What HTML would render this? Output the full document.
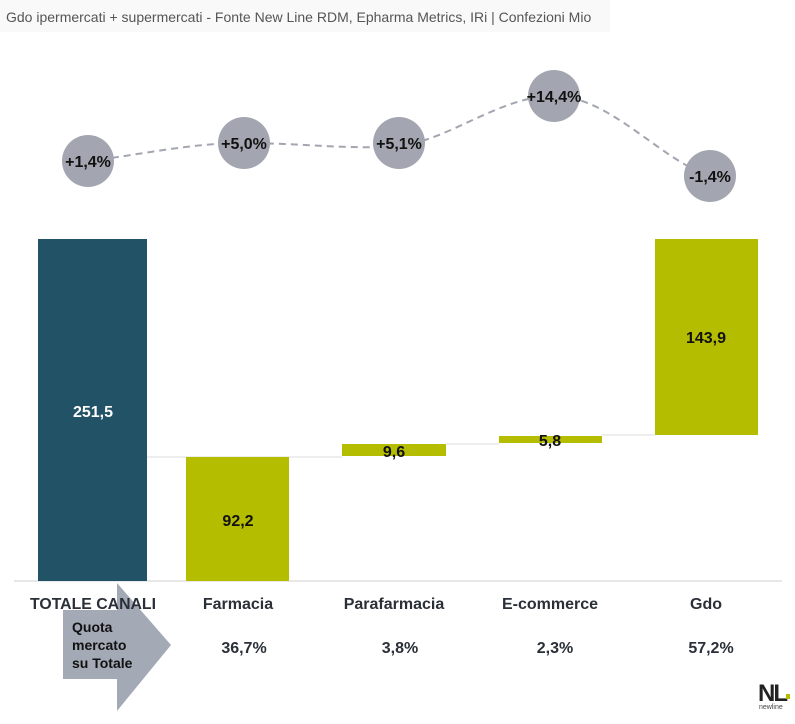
<!DOCTYPE html>
<html><head><style>
body{margin:0;background:#fff;}
svg text{font-family:"Liberation Sans",Arial,sans-serif;}
</style></head><body>
<svg width="795" height="719" xmlns="http://www.w3.org/2000/svg">
<rect x="0" y="0" width="610" height="32" fill="#f9f9f9"/>
<text x="6" y="22" font-size="14" fill="#555">Gdo ipermercati + supermercati - Fonte New Line RDM, Epharma Metrics, IRi | Confezioni Mio</text>
<line x1="14" y1="581" x2="782" y2="581" stroke="#e0e0e0" stroke-width="1.5"/>
<line x1="147" y1="457" x2="342" y2="457" stroke="#ddd"/>
<line x1="446" y1="444" x2="499" y2="444" stroke="#ddd"/>
<line x1="602" y1="435" x2="655" y2="435" stroke="#ddd"/>
<rect x="38" y="239" width="109" height="342" fill="#215266"/>
<rect x="186" y="457" width="103" height="124" fill="#b5bd00"/>
<rect x="342" y="444" width="104" height="12" fill="#b5bd00"/>
<rect x="499" y="436" width="103" height="7" fill="#b5bd00"/>
<rect x="655" y="239" width="103" height="196" fill="#b5bd00"/>
<g font-size="16" font-weight="bold" text-anchor="middle">
<text x="93" y="417" fill="#fff">251,5</text>
<text x="238" y="526" fill="#111">92,2</text>
<text x="394" y="457" fill="#111">9,6</text>
<text x="550" y="446" fill="#111">5,8</text>
<text x="706" y="343" fill="#111">143,9</text>
</g>
<path d="M88,161 C140,155 190,143 244,143 C300,143 350,150 399,146 C450,140 500,96 554,96 C610,96 660,160 710,176" fill="none" stroke="#a3a6b0" stroke-width="2" stroke-dasharray="7,5"/>
<g fill="#a3a6b0">
<circle cx="88" cy="161" r="26"/><circle cx="244" cy="143" r="26"/><circle cx="399" cy="143" r="26"/><circle cx="554" cy="96" r="26"/><circle cx="710" cy="176" r="26"/>
</g>
<g font-size="16" font-weight="bold" text-anchor="middle" fill="#111">
<text x="88" y="167">+1,4%</text>
<text x="244" y="149">+5,0%</text>
<text x="399" y="149">+5,1%</text>
<text x="554" y="102">+14,4%</text>
<text x="710" y="182">-1,4%</text>
</g>
<polygon points="63,610 117,610 117,583 171,645 117,711 117,679 63,679" fill="#a4a9b6"/>
<g font-size="14" font-weight="bold" fill="#111">
<text x="72" y="632">Quota</text>
<text x="72" y="650">mercato</text>
<text x="72" y="668">su Totale</text>
</g>
<g font-size="16" font-weight="bold" text-anchor="middle" fill="#2a2f38">
<text x="93" y="609" textLength="126" lengthAdjust="spacingAndGlyphs">TOTALE CANALI</text>
<text x="238" y="609">Farmacia</text>
<text x="394" y="609">Parafarmacia</text>
<text x="550" y="609">E-commerce</text>
<text x="706" y="609">Gdo</text>
<text x="244" y="653">36,7%</text>
<text x="400" y="653">3,8%</text>
<text x="555" y="653">2,3%</text>
<text x="711" y="653">57,2%</text>
</g>
<text x="758" y="701" font-size="24" font-weight="bold" fill="#222" letter-spacing="-2">NL</text>
<rect x="786" y="694" width="4" height="5" fill="#b5bd00"/>
<text x="759" y="709" font-size="7" fill="#444">newline</text>
</svg>
</body></html>
